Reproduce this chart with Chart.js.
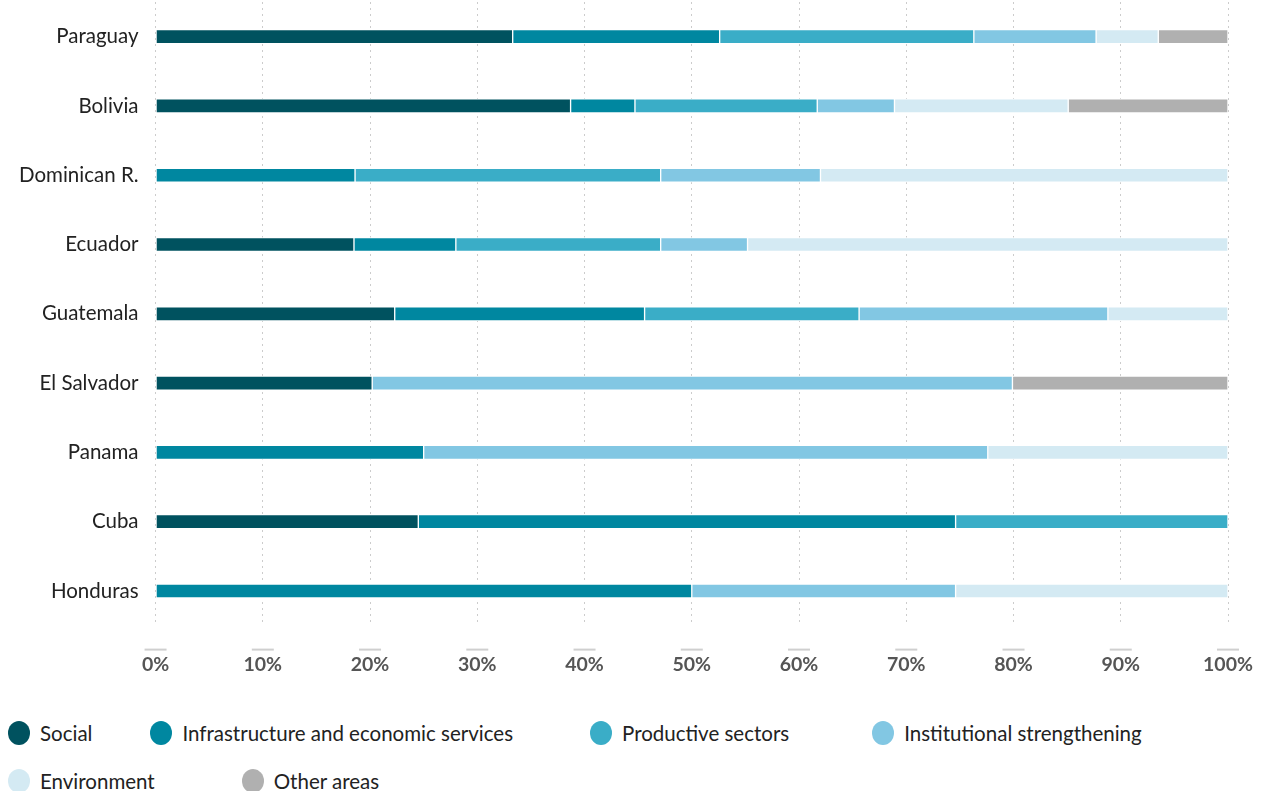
<!DOCTYPE html>
<html>
<head>
<meta charset="utf-8">
<script src="https://cdn.jsdelivr.net/npm/chart.js@4.4.1/dist/chart.umd.min.js"></script>
<style>
  html, body { margin: 0; padding: 0; background: #fff; }
  body { width: 1266px; height: 791px; overflow: hidden; font-family: Lato, "Noto Sans", sans-serif; }
  #wrap { position: relative; width: 1266px; height: 690px; }
  #legend { display: flex; flex-wrap: wrap; padding: 31px 0 0 8px; row-gap: 24px; width: 1200px; }
  .item { display: flex; align-items: center; font-size: 20.5px; color: #222; height: 24px; }
  .item:nth-child(2) { margin-left: 58px; }
  .item:nth-child(3) { margin-left: 77px; }
  .item:nth-child(4) { margin-left: 83px; }
  .item:nth-child(6) { margin-left: 87px; }
  .dot { width: 22px; height: 24px; border-radius: 50%; margin-right: 10px; }
</style>
</head>
<body>
<div id="wrap"><canvas id="aidChart"></canvas></div>
<div id="legend"></div>
<script>
// Países y reparto por área (% del total)
const countries = ['Paraguay', 'Bolivia', 'Dominican R.', 'Ecuador', 'Guatemala', 'El Salvador', 'Panama', 'Cuba', 'Honduras'];
const social        = [33.3, 38.7,  0.0, 18.5, 22.3, 20.2,  0.0, 24.5,  0.0];
const infrastructure = [19.3,  6.0, 18.6,  9.5, 23.3,  0.0, 25.0, 50.1, 50.0];
const productive    = [23.7, 17.0, 28.5, 19.1, 20.0,  0.0,  0.0, 25.4,  0.0];
const institutional = [11.4,  7.2, 14.9,  8.1, 23.2, 59.7, 52.6,  0.0, 24.6];
const environment   = [ 5.8, 16.2, 38.0, 44.8, 11.2,  0.0, 22.4,  0.0, 25.4];
const otherAreas    = [ 6.5, 14.9,  0.0,  0.0,  0.0, 20.1,  0.0,  0.0,  0.0];
const tickValues = [0, 10, 20, 30, 40, 50, 60, 70, 80, 90, 100];

const seriesNames = ['Social', 'Infrastructure and economic services', 'Productive sectors', 'Institutional strengthening', 'Environment', 'Other areas'];
const seriesData = [social, infrastructure, productive, institutional, environment, otherAreas];
const seriesColors = ['#00525f', '#0087a0', '#3aadc7', '#82c7e3', '#d4eaf3', '#b0b0b0'];

// marcas cortas bajo cada etiqueta del eje x
const tickMarks = {
  id: 'tickMarks',
  afterDraw(chart) {
    const x = chart.scales.x;
    const c = chart.ctx;
    c.save();
    c.strokeStyle = '#cfcfcf';
    c.lineWidth = 2;
    x.ticks.forEach((t, i) => {
      const px = x.getPixelForTick(i);
      c.beginPath();
      c.moveTo(px - 11, chart.chartArea.bottom + 24);
      c.lineTo(px + 11, chart.chartArea.bottom + 24);
      c.stroke();
    });
    c.restore();
  }
};

const ctx = document.getElementById('aidChart').getContext('2d');
const aidChart = new Chart(ctx, {
  type: 'bar',
  data: {
    labels: countries,
    datasets: seriesNames.map((name, i) => ({
      label: name,
      data: seriesData[i],
      backgroundColor: seriesColors[i],
      borderColor: '#ffffff',
      borderWidth: 1,
      borderSkipped: false,
      barThickness: 14
    }))
  },
  options: {
    indexAxis: 'y',
    responsive: true,
    maintainAspectRatio: false,
    animation: false,
    layout: { padding: { top: 2, right: 0, left: 19, bottom: 14 } },
    plugins: {
      legend: { display: false },
      tooltip: { enabled: false }
    },
    scales: {
      x: {
        stacked: true,
        min: 0,
        max: 100,
        afterBuildTicks: function(scale) {
          scale.ticks = tickValues.map(v => ({ value: v }));
        },
        afterFit: function(scale) {
          // el padding solo entre el área y las etiquetas, no también debajo
          scale.height -= scale.options.ticks.padding;
          // hueco a la derecha para la etiqueta "100%"
          scale.paddingRight = 38;
        },
        border: { display: false, dash: [2, 4] },
        grid: {
          color: '#cccccc',
          lineWidth: 1,
          drawTicks: false
        },
        ticks: {
          padding: 27,
          color: '#555555',
          font: { family: 'Lato', size: 19.5, weight: 'bold' },
          callback: function(value) {
            return value + '%';
          }
        }
      },
      y: {
        stacked: true,
        border: { display: false },
        grid: { display: false, drawTicks: false },
        afterFit: function(scale) {
          scale.width -= scale.options.ticks.padding;
          scale.paddingTop = 0;
          scale.paddingBottom = 0;
        },
        ticks: {
          padding: 17,
          color: '#222222',
          font: { family: 'Lato', size: 20.5 }
        }
      }
    }
  },
  plugins: [tickMarks]
});

// leyenda
const legend = document.getElementById('legend');
seriesNames.forEach((name, i) => {
  const item = document.createElement('div');
  item.className = 'item';
  item.innerHTML = '<span class="dot" style="background:' + seriesColors[i] + '"></span>' + name;
  legend.appendChild(item);
});
</script>
</body>
</html>
